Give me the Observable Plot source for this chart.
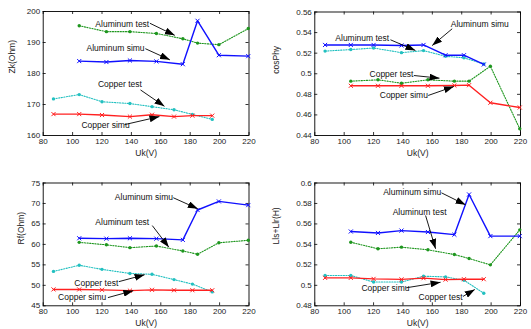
<!DOCTYPE html>
<html><head><meta charset="utf-8">
<script src="https://cdn.jsdelivr.net/npm/d3@7"></script>
<script src="https://cdn.jsdelivr.net/npm/@observablehq/plot@0.6"></script>
<style>
body{margin:0;background:#fff;}
#wrap{position:relative;width:531px;height:329px;background:#fff;}
#wrap svg{position:absolute;}
</style></head>
<body><div id="wrap"></div>
<script>
// ---- data ----
const xTicks = [80, 100, 120, 140, 160, 180, 200, 220];
const alX = [104.5, 123, 139, 157, 175, 185, 199.5, 219.5];
const cuX = [87, 104.5, 120, 139, 154, 169, 181.5, 195];

// Panel 1: Zk(Ohm)
const zkTicks = [160, 170, 180, 190, 200];
const zkAlSimu = [184.0, 183.7, 184.2, 183.9, 183.0, 197.0, 185.9, 185.6];
const zkAlTest = [195.4, 193.5, 193.5, 192.9, 191.2, 189.8, 189.3, 194.5];
const zkCuTest = [171.8, 173.2, 170.9, 170.3, 169.3, 168.3, 166.8, 165.2];
const zkCuSimu = [166.9, 166.9, 166.6, 166.1, 166.7, 166.1, 166.4, 166.4];

// Panel 2: cosPhy
const cpTicks = [0.44, 0.46, 0.48, 0.5, 0.52, 0.54, 0.56];
const cpBlue  = [0.528, 0.528, 0.528, 0.5275, 0.528, 0.518, 0.518, 0.509];
const cpCyan  = [0.522, 0.5235, 0.525, 0.5205, 0.5225, 0.517, 0.5155, 0.5095];
const cpGreen = [0.4928, 0.4941, 0.4908, 0.4941, 0.4928, 0.4928, 0.5073, 0.4465];
const cpRed   = [0.4883, 0.4883, 0.4883, 0.4883, 0.4886, 0.4889, 0.4718, 0.4672];

// Panel 3: Rf(Ohm)
const rfTicks = [45, 50, 55, 60, 65, 70, 75];
const rfAlSimu = [61.5, 61.4, 61.5, 61.4, 61.1, 68.4, 70.5, 69.6];
const rfAlTest = [60.5, 59.9, 59.2, 59.6, 58.4, 57.6, 60.4, 61.0];
const rfCuTest = [53.4, 54.9, 53.9, 52.9, 52.7, 51.4, 50.3, 48.4];
const rfCuSimu = [49.0, 49.0, 48.9, 48.7, 48.9, 48.8, 48.8, 48.8];

// Panel 4: Lls+Llr(H)
const lTicks = [0.48, 0.5, 0.52, 0.54, 0.56, 0.58, 0.6];
const lAlSimu = [0.5526, 0.5512, 0.5535, 0.5521, 0.5495, 0.5888, 0.5481, 0.5481];
const lAlTest = [0.5421, 0.5357, 0.5373, 0.5347, 0.5301, 0.5262, 0.5200, 0.5542];
const lCuTest = [0.5096, 0.5096, 0.5032, 0.5032, 0.5089, 0.5083, 0.5050, 0.4923];
const lCuSimu = [0.5073, 0.5073, 0.5063, 0.5058, 0.5070, 0.5056, 0.5060, 0.5060];

// annotations: label, text x/y, arrow from (x1,y1) to (x2,y2)
const zkNotes = [
  {label:"Aluminum test", tx:133.8, ty:196.0, x1:152.6, y1:196.2, x2:169.5, y2:192.3},
  {label:"Aluminum simu", tx:129.2, ty:188.0, x1:149.5, y1:188.0, x2:166.2, y2:184.4},
  {label:"Copper test",   tx:132.2, ty:176.4, x1:146.2, y1:174.7, x2:162.5, y2:169.4},
  {label:"Copper simu",   tx:122.4, ty:163.4, x1:135.3, y1:163.5, x2:159.1, y2:166.1}
];
const cpNotes = [
  {label:"Aluminum simu", tx:192.3, ty:0.5479, x1:173.5, y1:0.5437, x2:159.9, y2:0.5274},
  {label:"Aluminum test", tx:112.3, ty:0.5345, x1:131.5, y1:0.5330, x2:148.5, y2:0.5226},
  {label:"Copper test",   tx:132.2, ty:0.4993, x1:147.4, y1:0.4983, x2:164.9, y2:0.4957},
  {label:"Copper simu",   tx:140.6, ty:0.4795, x1:157.2, y1:0.4789, x2:174.6, y2:0.4876}
];
const rfNotes = [
  {label:"Aluminum simu", tx:148.5, ty:71.5, x1:168.5, y1:71.4, x2:185.2, y2:68.7},
  {label:"Aluminum test", tx:133.8, ty:65.3, x1:154.2, y1:64.6, x2:165.5, y2:59.3},
  {label:"Copper test",   tx:116.1, ty:50.6, x1:131.5, y1:50.9, x2:149.0, y2:52.6},
  {label:"Copper simu",   tx:106.5, ty:47.0, x1:124.0, y1:47.0, x2:141.3, y2:48.7}
];
const lNotes = [
  {label:"Aluminum simu", tx:146.3, ty:0.5910, x1:166.2, y1:0.5904, x2:182.6, y2:0.5787},
  {label:"Aluminum test", tx:151.3, ty:0.5715, x1:155.4, y1:0.5682, x2:162.2, y2:0.5357},
  {label:"Copper simu",   tx:128.1, ty:0.4976, x1:142.2, y1:0.4976, x2:165.6, y2:0.5030},
  {label:"Copper test",   tx:165.6, ty:0.4884, x1:180.8, y1:0.4891, x2:188.9, y2:0.4959}
];

const BLUE = "#1010ff", RED = "#ff2020", GREEN = "#1e961e", CYAN = "#22c0c0";

function table(xs, ys) { return xs.map((x, i) => ({x, y: ys[i]})); }

let uid = 0;
function panel(cfg) {
  const {left, top, width, height, mL, mR, mT, mB, yDomain, yTicks, yLabel, yLabelDx, series, notes} = cfg;
  const pw = width - mL - mR, ph = height - mT - mB;
  const marks = [
    Plot.frame({stroke: "#000", strokeWidth: 0.9}),
    Plot.tickX(xTicks, {x: d => d, insetTop: ph - 3, stroke: "#000", strokeWidth: 0.8}),
    Plot.tickX(xTicks, {x: d => d, insetBottom: ph - 3, stroke: "#000", strokeWidth: 0.8}),
    Plot.tickY(yTicks, {y: d => d, insetRight: pw - 3, stroke: "#000", strokeWidth: 0.8}),
    Plot.tickY(yTicks, {y: d => d, insetLeft: pw - 3, stroke: "#000", strokeWidth: 0.8}),
    Plot.axisX(xTicks, {tickSize: 0, tickPadding: 3, label: null, fontSize: 8, fill: "#222"}),
    Plot.axisY(yTicks, {tickSize: 0, tickPadding: 3, label: null, fontSize: 8, fill: "#222", tickFormat: d => String(d)}),
    Plot.text(["Uk(V)"], {frameAnchor: "bottom", dy: 20, fontSize: 8.5, fill: "#222"}),
    Plot.text([yLabel], {frameAnchor: "left", dx: yLabelDx, rotate: -90, fontSize: 8.5, fill: "#222"})
  ];
  for (const s of series) {
    const d = table(s.x, s.y);
    if (s.solid) {
      marks.push(Plot.line(d, {x: "x", y: "y", stroke: s.color, strokeWidth: 1.4}));
      marks.push(Plot.dot(d, {x: "x", y: "y", symbol: "times", r: 2.0, stroke: s.color, strokeWidth: 1.0}));
    } else {
      marks.push(Plot.line(d, {x: "x", y: "y", stroke: s.color, strokeWidth: 1.1, strokeDasharray: "1.2,1.4"}));
      marks.push(Plot.dot(d, {x: "x", y: "y", r: 1.7, fill: s.color, stroke: "none"}));
    }
  }
  marks.push(Plot.link(notes, {x1: "x1", y1: "y1", x2: "x2", y2: "y2", stroke: "#000", strokeWidth: 0.9}));
  marks.push(Plot.text(notes, {x: "tx", y: "ty", text: "label", fontSize: 8.5, fill: "#111"}));

  const svg = Plot.plot({
    width, height,
    marginLeft: mL, marginRight: mR, marginTop: mT, marginBottom: mB,
    x: {domain: [80, 220], axis: null},
    y: {domain: yDomain, axis: null},
    style: {fontFamily: "'Liberation Sans', Arial, Helvetica, sans-serif", background: "transparent", overflow: "visible"},
    marks
  });
  const id = "ah" + (uid++);
  const ns = "http://www.w3.org/2000/svg";
  const defs = document.createElementNS(ns, "defs");
  const marker = document.createElementNS(ns, "marker");
  marker.setAttribute("id", id);
  marker.setAttribute("viewBox", "0 0 10 7");
  marker.setAttribute("refX", "10");
  marker.setAttribute("refY", "3.5");
  marker.setAttribute("markerUnits", "userSpaceOnUse");
  marker.setAttribute("markerWidth", "10");
  marker.setAttribute("markerHeight", "7");
  marker.setAttribute("orient", "auto");
  const p = document.createElementNS(ns, "path");
  p.setAttribute("d", "M0,0L10,3.5L0,7Z");
  p.setAttribute("fill", "#000");
  marker.appendChild(p);
  defs.appendChild(marker);
  svg.insertBefore(defs, svg.firstChild);
  svg.querySelectorAll('g[aria-label="link"] path').forEach(el => el.setAttribute("marker-end", `url(#${id})`));
  svg.style.left = left + "px";
  svg.style.top = top + "px";
  return svg;
}

const wrap = document.getElementById("wrap");
wrap.appendChild(panel({
  left: 0, top: 0, width: 265, height: 165, mL: 42.7, mR: 16.5, mT: 11, mB: 30,
  yDomain: [160, 200], yTicks: zkTicks, yLabel: "Zk(Ohm)", yLabelDx: -31,
  series: [
    {x: alX, y: zkAlTest, color: GREEN, solid: false},
    {x: alX, y: zkAlSimu, color: BLUE, solid: true},
    {x: cuX, y: zkCuTest, color: CYAN, solid: false},
    {x: cuX, y: zkCuSimu, color: RED, solid: true}
  ],
  notes: zkNotes
}));
wrap.appendChild(panel({
  left: 265, top: 0, width: 266, height: 165, mL: 49.3, mR: 11, mT: 11.5, mB: 30,
  yDomain: [0.44, 0.56], yTicks: cpTicks, yLabel: "cosPhy", yLabelDx: -39,
  series: [
    {x: cuX, y: cpCyan, color: CYAN, solid: false},
    {x: cuX, y: cpBlue, color: BLUE, solid: true},
    {x: alX, y: cpGreen, color: GREEN, solid: false},
    {x: alX, y: cpRed, color: RED, solid: true}
  ],
  notes: cpNotes
}));
wrap.appendChild(panel({
  left: 0, top: 165, width: 265, height: 164, mL: 42.7, mR: 16.5, mT: 17.5, mB: 23.7,
  yDomain: [45, 75], yTicks: rfTicks, yLabel: "Rf(Ohm)", yLabelDx: -22,
  series: [
    {x: alX, y: rfAlTest, color: GREEN, solid: false},
    {x: alX, y: rfAlSimu, color: BLUE, solid: true},
    {x: cuX, y: rfCuTest, color: CYAN, solid: false},
    {x: cuX, y: rfCuSimu, color: RED, solid: true}
  ],
  notes: rfNotes
}));
wrap.appendChild(panel({
  left: 265, top: 165, width: 266, height: 164, mL: 49.3, mR: 11, mT: 17.5, mB: 23.7,
  yDomain: [0.48, 0.6], yTicks: lTicks, yLabel: "Lls+Llr(H)", yLabelDx: -39,
  series: [
    {x: alX, y: lAlTest, color: GREEN, solid: false},
    {x: alX, y: lAlSimu, color: BLUE, solid: true},
    {x: cuX, y: lCuTest, color: CYAN, solid: false},
    {x: cuX, y: lCuSimu, color: RED, solid: true}
  ],
  notes: lNotes
}));
</script></body></html>
